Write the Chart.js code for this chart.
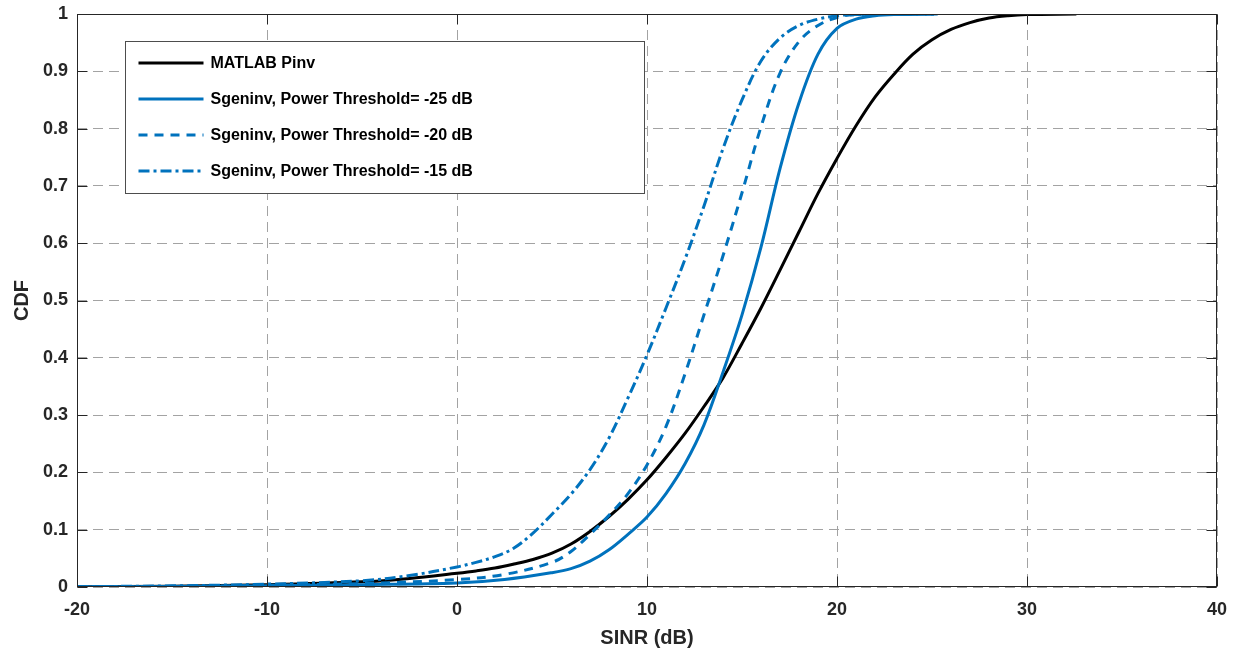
<!DOCTYPE html>
<html>
<head>
<meta charset="utf-8">
<title>SINR CDF</title>
<script src="https://cdn.jsdelivr.net/npm/chart.js@4/dist/chart.umd.min.js"></script>
<style>
  html, body { margin: 0; padding: 0; background: #ffffff; }
  #wrap { width: 1244px; height: 655px; position: relative; }
</style>
</head>
<body>
<div id="wrap"><canvas id="cdf" width="1244" height="655"></canvas></div>
<script>
// Axis ticks
const xTicks = [-20, -10, 0, 10, 20, 30, 40];
const yTicks = [0, 0.1, 0.2, 0.3, 0.4, 0.5, 0.6, 0.7, 0.8, 0.9, 1];

// Series names
const seriesLabels = [
  'MATLAB Pinv',
  'Sgeninv, Power Threshold= -25 dB',
  'Sgeninv, Power Threshold= -20 dB',
  'Sgeninv, Power Threshold= -15 dB'
];

// MATLAB Pinv: SINR (dB) and CDF
const sinrPinv = [-20, -15, -10, -5, -2.5, 0, 1, 2, 3, 4, 5, 6, 7, 8, 9, 10, 11, 12, 13, 14, 15, 16, 17, 18, 19, 20, 21, 22, 23, 24, 25, 26, 27, 28, 29, 30, 32.6];
const cdfPinv  = [0.0005, 0.0015, 0.004, 0.009, 0.015, 0.024, 0.028, 0.033, 0.04, 0.048, 0.059, 0.075, 0.097, 0.123, 0.153, 0.187, 0.226, 0.268, 0.315, 0.365, 0.425, 0.487, 0.553, 0.62, 0.687, 0.748, 0.805, 0.855, 0.895, 0.93, 0.955, 0.973, 0.985, 0.993, 0.997, 0.999, 1.0];

// Sgeninv, threshold -25 dB
const sinrT25 = [-20, -15, -10, -5, 0, 2.5, 5, 6, 7, 8, 9, 10, 11, 12, 13, 14, 15, 16, 17, 18, 19, 20, 21, 22, 23, 25.3];
const cdfT25  = [0.0003, 0.001, 0.002, 0.004, 0.007, 0.013, 0.025, 0.032, 0.045, 0.065, 0.092, 0.122, 0.163, 0.215, 0.283, 0.375, 0.475, 0.593, 0.73, 0.845, 0.93, 0.975, 0.991, 0.997, 0.999, 1.0];

// Sgeninv, threshold -20 dB
const sinrT20 = [-20, -15, -10, -5, 0, 2.5, 5, 6, 7, 8, 9, 10, 11, 12, 13, 14, 15, 16, 17, 18, 19, 20, 21, 25.3];
const cdfT20  = [0.0003, 0.001, 0.003, 0.006, 0.013, 0.022, 0.043, 0.062, 0.092, 0.125, 0.163, 0.213, 0.28, 0.372, 0.475, 0.578, 0.688, 0.803, 0.897, 0.952, 0.98, 0.994, 0.999, 1.0];

// Sgeninv, threshold -15 dB
const sinrT15 = [-20, -15, -10, -5, -2.5, 0, 1, 2, 3, 4, 5, 6, 7, 8, 9, 10, 11, 12, 13, 14, 15, 16, 17, 18, 19, 20, 21, 25.3];
const cdfT15  = [0.0005, 0.002, 0.005, 0.011, 0.02, 0.035, 0.043, 0.053, 0.068, 0.094, 0.127, 0.162, 0.205, 0.26, 0.33, 0.405, 0.487, 0.572, 0.665, 0.765, 0.85, 0.918, 0.958, 0.98, 0.991, 0.997, 0.999, 1.0];

const zip = (xs, ys) => xs.map((x, i) => ({ x: x, y: ys[i] }));

const BLUE = '#0072BD';
const INK = '#262626';
const FONT = '"Liberation Sans", Arial, Helvetica, sans-serif';

function series(label, xs, ys, color, dash, order) {
  return {
    label: label,
    data: zip(xs, ys),
    borderColor: color,
    backgroundColor: color,
    borderWidth: 3,
    borderDash: dash,
    borderCapStyle: 'butt',
    borderJoinStyle: 'round',
    pointRadius: 0,
    pointHoverRadius: 0,
    fill: false,
    showLine: true,
    tension: 0.35,
    order: order
  };
}

// Box around the axes with inward tick marks on all four sides
const axesFrame = {
  id: 'axesFrame',
  afterDraw(chart) {
    const { ctx, chartArea: a, scales } = chart;
    const L = Math.round(a.left) + 0.5, R = Math.round(a.right) - 0.5;
    const T = Math.round(a.top) + 0.5, B = Math.round(a.bottom) - 0.5;
    const len = 10;
    ctx.save();
    ctx.strokeStyle = INK;
    ctx.lineWidth = 1;
    ctx.setLineDash([]);
    ctx.strokeRect(L, T, R - L, B - T);
    ctx.beginPath();
    xTicks.forEach(v => {
      const px = Math.round(scales.x.getPixelForValue(v)) + 0.5;
      ctx.moveTo(px, B); ctx.lineTo(px, B - len);
      ctx.moveTo(px, T); ctx.lineTo(px, T + len);
    });
    yTicks.forEach(v => {
      const py = Math.round(scales.y.getPixelForValue(v)) + 0.5;
      ctx.moveTo(L, py); ctx.lineTo(L + len, py);
      ctx.moveTo(R, py); ctx.lineTo(R - len, py);
    });
    ctx.stroke();
    ctx.restore();
  }
};

// Boxed legend in the upper-left of the plot
const boxedLegend = {
  id: 'boxedLegend',
  afterDraw(chart) {
    const { ctx, chartArea: a } = chart;
    const bx = Math.round(a.left) + 48.5, by = Math.round(a.top) + 27.5;
    const bw = 519, bh = 152;
    ctx.save();
    ctx.fillStyle = '#ffffff';
    ctx.fillRect(bx, by, bw, bh);
    ctx.strokeStyle = '#4d4d4d';
    ctx.lineWidth = 1;
    ctx.strokeRect(bx, by, bw, bh);
    ctx.font = 'bold 16px ' + FONT;
    ctx.textBaseline = 'middle';
    ctx.textAlign = 'left';
    chart.data.datasets.forEach((ds, i) => {
      const ry = by + 21.5 + i * 36;
      ctx.beginPath();
      ctx.strokeStyle = ds.borderColor;
      ctx.lineWidth = ds.borderWidth;
      ctx.lineCap = 'butt';
      ctx.setLineDash(ds.borderDash || []);
      ctx.moveTo(bx + 13, ry);
      ctx.lineTo(bx + 78, ry);
      ctx.stroke();
      ctx.setLineDash([]);
      ctx.fillStyle = '#000000';
      ctx.fillText(ds.label, bx + 85, ry + 1);
    });
    ctx.restore();
  }
};

const tickFont = { family: FONT, size: 18, weight: 'bold' };
const titleFont = { family: FONT, size: 20, weight: 'bold' };

new Chart(document.getElementById('cdf'), {
  type: 'scatter',
  data: {
    datasets: [
      series(seriesLabels[0], sinrPinv, cdfPinv, '#000000', [], 4),
      series(seriesLabels[1], sinrT25, cdfT25, BLUE, [], 3),
      series(seriesLabels[2], sinrT20, cdfT20, BLUE, [9, 7], 2),
      series(seriesLabels[3], sinrT15, cdfT15, BLUE, [11, 4, 3, 4], 1)
    ]
  },
  options: {
    responsive: false,
    animation: false,
    devicePixelRatio: 1,
    layout: { padding: { top: 14, right: 27, left: 0, bottom: 0 } },
    plugins: {
      legend: { display: false },
      tooltip: { enabled: false },
      title: { display: false }
    },
    scales: {
      x: {
        type: 'linear',
        min: -20,
        max: 40,
        afterBuildTicks: s => { s.ticks = xTicks.map(v => ({ value: v })); },
        afterFit: s => { s.height = 68; s.paddingLeft = 0; s.paddingRight = 0; },
        ticks: {
          color: INK,
          font: tickFont,
          padding: 12,
          maxRotation: 0,
          autoSkip: false,
          callback: v => String(v)
        },
        grid: { color: '#a3a3a3', lineWidth: 1, drawTicks: false },
        border: { display: false, dash: [10, 6] },
        title: {
          display: true,
          text: 'SINR (dB)',
          color: INK,
          font: titleFont,
          padding: { top: 0, bottom: 5 }
        }
      },
      y: {
        type: 'linear',
        min: 0,
        max: 1,
        afterBuildTicks: s => { s.ticks = yTicks.map(v => ({ value: v })); },
        afterFit: s => { s.width = 77; s.paddingTop = 0; s.paddingBottom = 0; },
        ticks: {
          color: INK,
          font: tickFont,
          padding: 9,
          autoSkip: false,
          callback: v => String(v)
        },
        grid: { color: '#a3a3a3', lineWidth: 1, drawTicks: false },
        border: { display: false, dash: [10, 6] },
        title: {
          display: true,
          text: 'CDF',
          color: INK,
          font: titleFont,
          padding: { top: 10, bottom: 0 }
        }
      }
    }
  },
  plugins: [axesFrame, boxedLegend]
});
</script>
</body>
</html>
